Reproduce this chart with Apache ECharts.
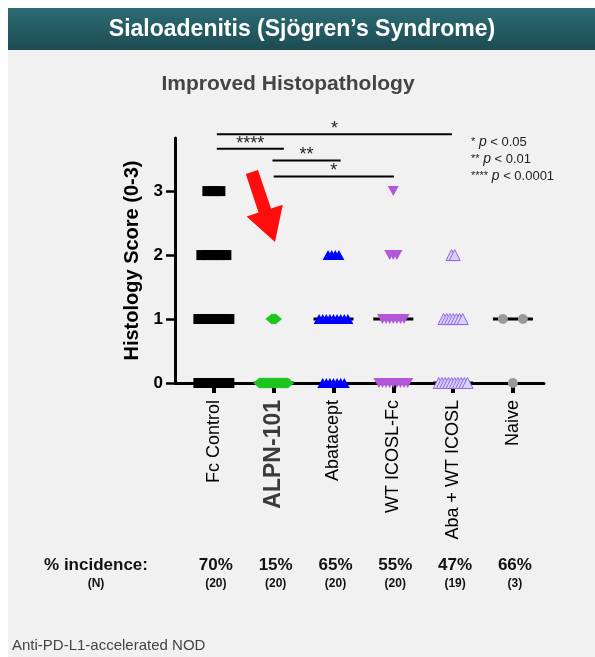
<!DOCTYPE html>
<html>
<head>
<meta charset="utf-8">
<script src="https://cdn.jsdelivr.net/npm/echarts@6.0.0/dist/echarts.min.js"></script>
<style>
  html, body { margin: 0; padding: 0; background: #fff; }
  #chart { width: 595px; height: 657px; }
</style>
</head>
<body>
<div id="chart"></div>
<script>
// groups and the score of every animal (0-3)
var groups = ['Fc Control', 'ALPN-101', 'Abatacept', 'WT ICOSL-Fc', 'Aba + WT ICOSL', 'Naive']
var fcControl = [3,3,3, 2,2,2,2,2, 1,1,1,1,1,1, 0,0,0,0,0,0]
var alpn101 = [1,1,1, 0,0,0,0,0,0,0,0,0,0,0,0,0,0,0,0,0]
var abatacept = [2,2,2,2, 1,1,1,1,1,1,1,1,1, 0,0,0,0,0,0,0]
var wtIcosl = [3, 2,2,2, 1,1,1,1,1,1,1, 0,0,0,0,0,0,0,0,0]
var abaWt = [2,2, 1,1,1,1,1,1,1, 0,0,0,0,0,0,0,0,0,0]
var naive = [1,1, 0]
var incidence = ['70%', '15%', '65%', '55%', '47%', '66%']
var nLabels = ['(20)', '(20)', '(20)', '(20)', '(19)', '(3)']
var yTicks = [0, 1, 2, 3]

// significance brackets (x in group index units, y in score units)
var bracketFrom = [0.05, 0.05, 0.98, 1.0]
var bracketTo = [3.98, 1.17, 2.12, 3.01]
var bracketY = [3.89, 3.66, 3.48, 3.23]
var bracketStars = ['*', '****', '**', '*']

var FONT = "'Liberation Sans', Arial, sans-serif"
var XMIN = -0.65, XMAX = 5.52
var GRID = { left: 175, top: 138, width: 369, height: 245 }
var PX = GRID.width / (XMAX - XMIN)   // pixels per group

// spread equal scores side by side like a column scatter
function swarm(scores, cat, step) {
    var levels = {}
    scores.forEach(function (s) { levels[s] = (levels[s] || 0) + 1 })
    var pts = []
    Object.keys(levels).forEach(function (k) {
        var n = levels[k]
        for (var i = 0; i < n; i++) {
            pts.push([cat + (i - (n - 1) / 2) * step / PX, +k])
        }
    })
    return pts
}

function median(arr) {
    var s = arr.slice().sort(function (a, b) { return a - b })
    var m = Math.floor(s.length / 2)
    return s.length % 2 ? s[m] : (s[m - 1] + s[m]) / 2
}

var allScores = [fcControl, alpn101, abatacept, wtIcosl, abaWt, naive]
var medians = allScores.map(function (a, i) { return [i, median(a)] })

var chart = echarts.init(document.getElementById('chart'))

var legendRich = { s: { fontSize: 11, fill: '#222' }, i: { fontStyle: 'italic', fontSize: 14, fill: '#222' } }

var option = {
    backgroundColor: '#fff',
    animation: false,
    graphic: [
        { type: 'rect', z: -10, shape: { x: 8, y: 8, width: 587, height: 42 },
          style: { fill: new echarts.graphic.LinearGradient(0, 0, 0, 1, [
              { offset: 0, color: '#2c6c74' }, { offset: 1, color: '#1d4b52' }]) } },
        { type: 'rect', z: -10, shape: { x: 8, y: 50, width: 587, height: 607 },
          style: { fill: '#f1f1f1' } },
        { type: 'text', x: 302, y: 30,
          style: { text: 'Sialoadenitis (Sjögren’s Syndrome)', fill: '#fff', font: 'bold 23px ' + FONT,
                   align: 'center', verticalAlign: 'middle', textAlign: 'center', textVerticalAlign: 'middle' } },
        { type: 'text', x: 288, y: 84,
          style: { text: 'Improved Histopathology', fill: '#444', font: 'bold 21px ' + FONT,
                   align: 'center', verticalAlign: 'middle', textAlign: 'center', textVerticalAlign: 'middle' } },
        // red arrow
        { type: 'polygon', z: 5,
          shape: { points: [[258, 170], [271, 208.6], [282.8, 204.7], [275, 242], [246.6, 216.5], [258.5, 212.6], [245.8, 174]] },
          style: { fill: '#ff0d0d' } },
        // p value legend
        { type: 'text', x: 471, y: 142,
          style: { text: '{s|*} {i|p} < 0.05', fill: '#222', font: '13px ' + FONT, verticalAlign: 'middle', textVerticalAlign: 'middle', rich: legendRich } },
        { type: 'text', x: 471, y: 159,
          style: { text: '{s|**} {i|p} < 0.01', fill: '#222', font: '13px ' + FONT, verticalAlign: 'middle', textVerticalAlign: 'middle', rich: legendRich } },
        { type: 'text', x: 471, y: 176,
          style: { text: '{s|****} {i|p} < 0.0001', fill: '#222', font: '13px ' + FONT, verticalAlign: 'middle', textVerticalAlign: 'middle', rich: legendRich } },
        { type: 'text', x: 96, y: 565,
          style: { text: '% incidence:', fill: '#111', font: 'bold 17px ' + FONT,
                   align: 'center', verticalAlign: 'middle', textAlign: 'center', textVerticalAlign: 'middle' } },
        { type: 'text', x: 96, y: 584,
          style: { text: '(N)', fill: '#111', font: 'bold 12px ' + FONT,
                   align: 'center', verticalAlign: 'middle', textAlign: 'center', textVerticalAlign: 'middle' } },
        { type: 'text', x: 12, y: 646,
          style: { text: 'Anti-PD-L1-accelerated NOD', fill: '#444', font: '15px ' + FONT,
                   verticalAlign: 'middle', textVerticalAlign: 'middle' } }
    ],
    grid: GRID,
    xAxis: {
        type: 'value',
        min: XMIN,
        max: XMAX,
        splitLine: { show: false },
        axisLine: { show: true, onZero: false, lineStyle: { color: '#000', width: 3 } },
        axisTick: { show: true, customValues: [0, 1, 2, 3, 4, 5], length: 10, lineStyle: { color: '#000', width: 4 } },
        axisLabel: {
            customValues: [0, 1, 2, 3, 4, 5],
            rotate: 90,
            margin: 17,
            color: '#000',
            fontFamily: FONT,
            fontSize: 18,
            formatter: function (v) {
                var name = groups[Math.round(v)]
                return v === 1 ? '{hi|' + name + '}' : name
            },
            rich: { hi: { fontSize: 23, fontWeight: 'bold', color: '#3a3a3a', fontFamily: FONT } }
        }
    },
    yAxis: {
        type: 'value',
        min: 0,
        max: 3.83,
        name: 'Histology Score (0-3)',
        nameLocation: 'middle',
        nameGap: 31,
        nameTextStyle: { fontFamily: FONT, fontSize: 20, fontWeight: 'bold', color: '#000' },
        splitLine: { show: false },
        axisLine: { show: true, onZero: false, lineStyle: { color: '#000', width: 3 } },
        axisTick: { show: true, customValues: yTicks, length: 9, lineStyle: { color: '#000', width: 2.5 } },
        axisLabel: { customValues: yTicks, margin: 12, color: '#000', fontFamily: FONT, fontSize: 17, fontWeight: 'bold' }
    },
    series: [
        {
            type: 'custom',
            name: 'median',
            z: 2,
            clip: false,
            data: medians,
            renderItem: function (params, api) {
                var p = api.coord([api.value(0), api.value(1)])
                return { type: 'line', shape: { x1: p[0] - 20, y1: p[1], x2: p[0] + 20, y2: p[1] },
                         style: { stroke: '#000', lineWidth: 3 } }
            }
        },
        { type: 'scatter', name: groups[0], z: 3, clip: false, symbol: 'rect', symbolSize: [11, 10],
          itemStyle: { color: '#000', opacity: 1 }, data: swarm(fcControl, 0, 6) },
        { type: 'scatter', name: groups[1], z: 3, clip: false, symbol: 'diamond', symbolSize: [13, 11],
          itemStyle: { color: '#1fc41f', opacity: 1 }, data: swarm(alpn101, 1, 1.75) },
        { type: 'scatter', name: groups[2], z: 3, clip: false, symbol: 'triangle', symbolSize: [11, 10],
          itemStyle: { color: '#0000ff', opacity: 1 }, data: swarm(abatacept, 2, 3.6) },
        { type: 'scatter', name: groups[3], z: 3, clip: false, symbol: 'triangle', symbolRotate: 180, symbolSize: [11, 10],
          itemStyle: { color: '#b357d8', opacity: 1 }, data: swarm(wtIcosl, 3, 3.6) },
        { type: 'scatter', name: groups[4], z: 3, clip: false, symbol: 'triangle', symbolSize: [11, 11],
          itemStyle: { color: '#dccff8', borderColor: '#8a6be6', borderWidth: 1, opacity: 1 }, data: swarm(abaWt, 4, 3.2) },
        { type: 'scatter', name: groups[5], z: 3, clip: false, symbol: 'circle', symbolSize: 10,
          itemStyle: { color: '#9a9a9a', opacity: 1 }, data: swarm(naive, 5, 20) },
        {
            type: 'custom',
            name: 'brackets',
            z: 4,
            clip: false,
            data: bracketY.map(function (y, i) { return [bracketFrom[i], bracketTo[i], y] }),
            renderItem: function (params, api) {
                var a = api.coord([api.value(0), api.value(2)])
                var b = api.coord([api.value(1), api.value(2)])
                return {
                    type: 'group',
                    children: [
                        { type: 'line', shape: { x1: a[0], y1: a[1], x2: b[0], y2: b[1] },
                          style: { stroke: '#000', lineWidth: 2 } },
                        { type: 'text', x: (a[0] + b[0]) / 2, y: a[1] + 4,
                          style: { text: bracketStars[params.dataIndex], fill: '#222', font: '18px ' + FONT,
                                   align: 'center', verticalAlign: 'bottom', textAlign: 'center', textVerticalAlign: 'bottom' } }
                    ]
                }
            }
        },
        {
            type: 'custom',
            name: 'incidence',
            z: 4,
            clip: false,
            data: groups.map(function (g, i) { return [i, 0] }),
            renderItem: function (params, api) {
                var p = api.coord([api.value(0), 0])
                return {
                    type: 'group',
                    children: [
                        { type: 'text', x: p[0] + 2, y: p[1] + 182,
                          style: { text: incidence[params.dataIndex], fill: '#111', font: 'bold 17px ' + FONT,
                                   align: 'center', verticalAlign: 'middle', textAlign: 'center', textVerticalAlign: 'middle' } },
                        { type: 'text', x: p[0] + 2, y: p[1] + 201,
                          style: { text: nLabels[params.dataIndex], fill: '#111', font: 'bold 12px ' + FONT,
                                   align: 'center', verticalAlign: 'middle', textAlign: 'center', textVerticalAlign: 'middle' } }
                    ]
                }
            }
        }
    ]
}

chart.setOption(option)
window.addEventListener('resize', function () {
    chart.resize()
})
</script>
</body>
</html>
